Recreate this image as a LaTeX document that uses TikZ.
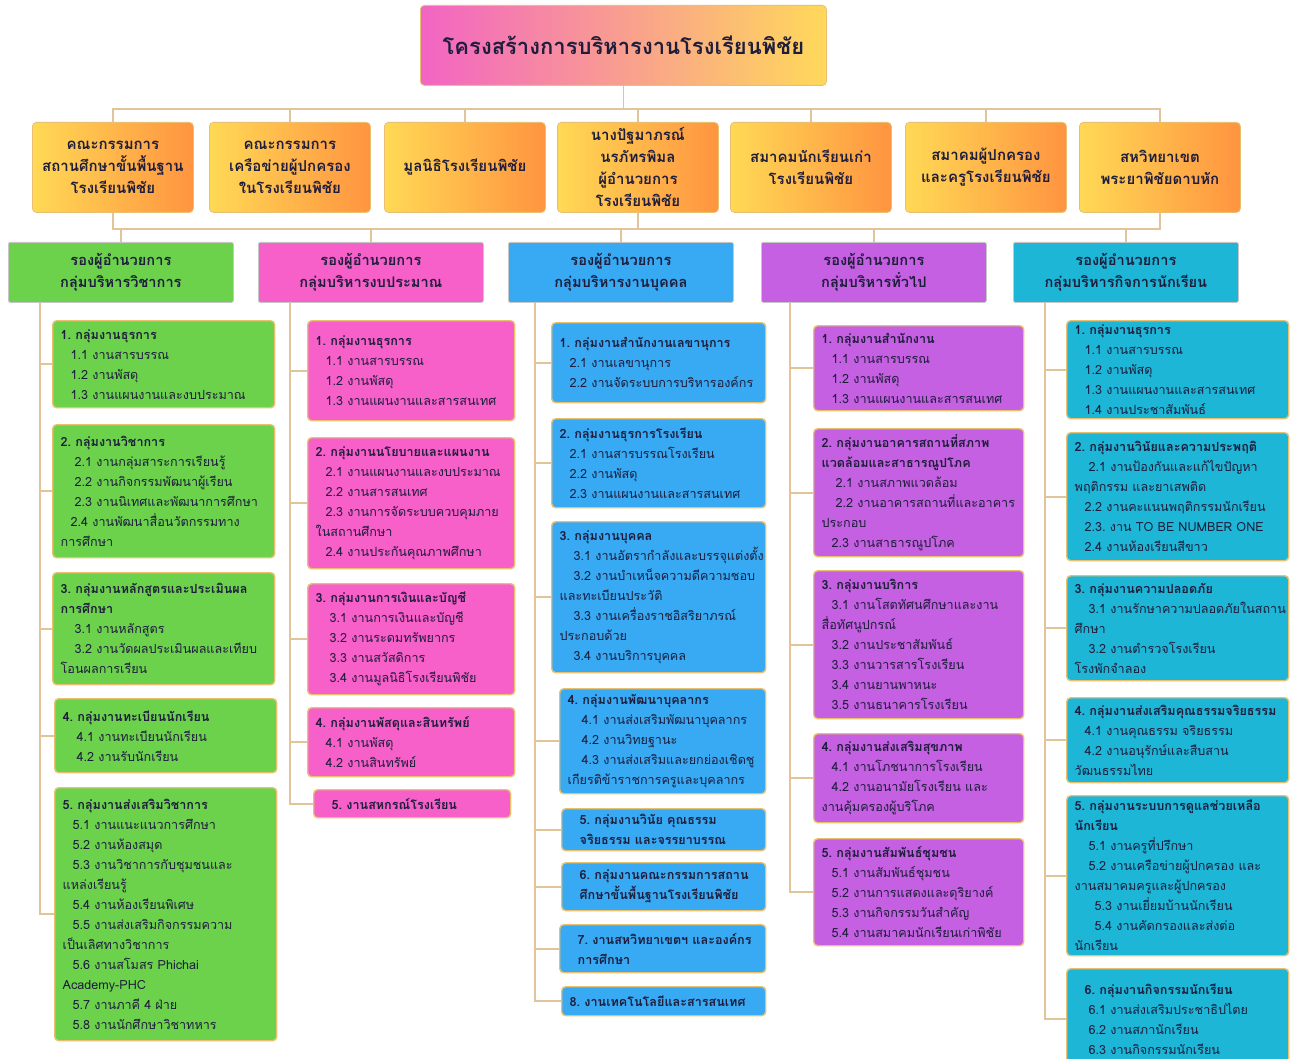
\documentclass[tikz,border=0pt]{standalone}
\usepackage{fontspec}
\setmainfont[Script=Thai]{Loma}
\usetikzlibrary{positioning}

\definecolor{ttlL}{HTML}{F264C4}
\definecolor{ttlR}{HTML}{FFD95A}
\definecolor{brdL}{HTML}{FFD955}
\definecolor{brdR}{HTML}{FF9440}
\definecolor{grn}{HTML}{6CD24C}
\definecolor{pnk}{HTML}{F75FC9}
\definecolor{blu}{HTML}{37AAF3}
\definecolor{prp}{HTML}{C560E2}
\definecolor{cyn}{HTML}{1DB6D7}
\definecolor{lnk}{HTML}{E2C49A}
\definecolor{ink}{HTML}{1E1D3C}
\definecolor{rim}{HTML}{E9C070}

\newcommand{\hdr}[1]{\textbf{#1}}
\newcommand{\indA}{\hspace*{5pt}}
\newcommand{\indB}{\hspace*{7pt}}
\newcommand{\indC}{\hspace*{10pt}}

\begin{document}
\begin{tikzpicture}[x=0.5pt,y=-0.5pt,
    line/.style={draw=lnk,line width=0.8pt},
    ttl/.style={draw=rim,rounded corners=2pt,left color=ttlL,right color=ttlR,anchor=north west,
        minimum width=203pt,minimum height=40pt,font=\fontsize{11}{13}\selectfont\bfseries,text=ink},
    board/.style={draw=rim,rounded corners=2pt,left color=brdL,right color=brdR,anchor=north west,
        minimum width=80.5pt,minimum height=45pt,align=center,inner sep=1pt,
        font=\fontsize{7.5}{11}\selectfont\bfseries,text=ink},
    dep/.style={draw=gray!45,rounded corners=1pt,anchor=north west,minimum width=112.5pt,
        minimum height=30pt,align=center,inner sep=1pt,font=\fontsize{7.3}{11}\selectfont\bfseries,text=ink},
    grp/.style={draw=rim,line width=0.7pt,rounded corners=2pt,anchor=north west,align=left,
        inner xsep=4pt,inner ysep=2pt,font=\fontsize{6.3}{10}\selectfont,text=ink},
    c1/.style={grp,fill=grn,text width=103pt},
    c2/.style={grp,fill=pnk,text width=95.5pt},
    c3/.style={grp,fill=blu,text width=99pt},
    c4/.style={grp,fill=prp,text width=97pt},
    c5/.style={grp,fill=cyn,text width=103pt}]
\useasboundingbox (0,0) rectangle (1295,1059);

% title and boards
\node[ttl] (title) at (420,5) {โครงสร้างการบริหารงานโรงเรียนพิชัย};
\node[board] (b1) at (32,122) {คณะกรรมการ\\สถานศึกษาขั้นพื้นฐาน\\โรงเรียนพิชัย};
\node[board] (b2) at (209,122) {คณะกรรมการ\\เครือข่ายผู้ปกครอง\\ในโรงเรียนพิชัย};
\node[board] (b3) at (384,122) {มูลนิธิโรงเรียนพิชัย};
\node[board] (b4) at (557,122) {นางปัฐมาภรณ์\\นรภัทรพิมล\\ผู้อำนวยการ\\โรงเรียนพิชัย};
\node[board] (b5) at (730,122) {สมาคมนักเรียนเก่า\\โรงเรียนพิชัย};
\node[board] (b6) at (905,122) {สมาคมผู้ปกครอง\\และครูโรงเรียนพิชัย};
\node[board] (b7) at (1079,122) {สหวิทยาเขต\\พระยาพิชัยดาบหัก};

% deputies
\node[dep,fill=grn] (d1) at (8,242) {รองผู้อำนวยการ\\กลุ่มบริหารวิชาการ};
\node[dep,fill=pnk] (d2) at (258,242) {รองผู้อำนวยการ\\กลุ่มบริหารงบประมาณ};
\node[dep,fill=blu] (d3) at (508,242) {รองผู้อำนวยการ\\กลุ่มบริหารงานบุคคล};
\node[dep,fill=prp] (d4) at (761,242) {รองผู้อำนวยการ\\กลุ่มบริหารทั่วไป};
\node[dep,fill=cyn] (d5) at (1013,242) {รองผู้อำนวยการ\\กลุ่มบริหารกิจการนักเรียน};

% academic
\node[c1,minimum height=43.5pt] (g11) at (52,320) {\hdr{1.~กลุ่มงานธุรการ}\\\indA 1.1~งานสารบรรณ\\\indA 1.2~งานพัสดุ\\\indA 1.3~งานแผนงานและงบประมาณ};
\node[c1,minimum height=66.5pt] (g12) at (52,424) {\hdr{2.~กลุ่มงานวิชาการ}\\\indB 2.1~งานกลุ่มสาระการเรียนรู้\\\indB 2.2~งานกิจกรรมพัฒนาผู้เรียน\\\indB 2.3~งานนิเทศและพัฒนาการศึกษา\\\indA 2.4~งานพัฒนาสื่อนวัตกรรมทาง\\การศึกษา};
\node[c1,minimum height=56pt] (g13) at (52,572) {\hdr{3.~กลุ่มงานหลักสูตรและประเมินผล}\\\hdr{การศึกษา}\\\indB 3.1~งานหลักสูตร\\\indB 3.2~งานวัดผลประเมินผลและเทียบ\\โอนผลการเรียน};
\node[c1,minimum height=37pt] (g14) at (54,698) {\hdr{4.~กลุ่มงานทะเบียนนักเรียน}\\\indB 4.1~งานทะเบียนนักเรียน\\\indB 4.2~งานรับนักเรียน};
\node[c1,minimum height=126.5pt] (g15) at (54,787) {\hdr{5.~กลุ่มงานส่งเสริมวิชาการ}\\\indA 5.1~งานแนะแนวการศึกษา\\\indA 5.2~งานห้องสมุด\\\indA 5.3~งานวิชาการกับชุมชนและ\\แหล่งเรียนรู้\\\indA 5.4~งานห้องเรียนพิเศษ\\\indA 5.5~งานส่งเสริมกิจกรรมความ\\เป็นเลิศทางวิชาการ\\\indA 5.6~งานสโมสร~Phichai\\Academy-PHC\\\indA 5.7~งานภาคี~4~ฝ่าย\\\indA 5.8~งานนักศึกษาวิชาทหาร};

% budget
\node[c2,minimum height=50pt] (g21) at (307,320) {\hdr{1.~กลุ่มงานธุรการ}\\\indA 1.1~งานสารบรรณ\\\indA 1.2~งานพัสดุ\\\indA 1.3~งานแผนงานและสารสนเทศ};
\node[c2,minimum height=65.5pt] (g22) at (307,437) {\hdr{2.~กลุ่มงานนโยบายและแผนงาน}\\\indA 2.1~งานแผนงานและงบประมาณ\\\indA 2.2~งานสารสนเทศ\\\indA 2.3~งานการจัดระบบควบคุมภาย\\ในสถานศึกษา\\\indA 2.4~งานประกันคุณภาพศึกษา};
\node[c2,minimum height=55.5pt] (g23) at (307,583) {\hdr{3.~กลุ่มงานการเงินและบัญชี}\\\indB 3.1~งานการเงินและบัญชี\\\indB 3.2~งานระดมทรัพยากร\\\indB 3.3~งานสวัสดิการ\\\indB 3.4~งานมูลนิธิโรงเรียนพิชัย};
\node[c2,minimum height=34.5pt] (g24) at (307,707) {\hdr{4.~กลุ่มงานพัสดุและสินทรัพย์}\\\indA 4.1~งานพัสดุ\\\indA 4.2~งานสินทรัพย์};
\node[c2,text width=90.5pt,minimum height=14pt] (g25) at (313,789) {\hdr{\indA 5.~งานสหกรณ์โรงเรียน}};

% personnel
\node[c3,minimum height=40pt] (g31) at (551,322) {\hdr{1.~กลุ่มงานสำนักงานเลขานุการ}\\\indA 2.1~งานเลขานุการ\\\indA 2.2~งานจัดระบบการบริหารองค์กร};
\node[c3,minimum height=44.5pt] (g32) at (551,418) {\hdr{2.~กลุ่มงานธุรการโรงเรียน}\\\indA 2.1~งานสารบรรณโรงเรียน\\\indA 2.2~งานพัสดุ\\\indA 2.3~งานแผนงานและสารสนเทศ};
\node[c3,minimum height=75.5pt] (g33) at (551,521) {\hdr{3.~กลุ่มงานบุคคล}\\\indB 3.1~งานอัตรากำลังและบรรจุแต่งตั้ง\\\indB 3.2~งานบำเหน็จความดีความชอบ\\และทะเบียนประวัติ\\\indB 3.3~งานเครื่องราชอิสริยาภรณ์\\ประกอบด้วย\\\indB 3.4~งานบริการบุคคล};
\node[c3,text width=95pt,minimum height=52.5pt] (g34) at (559,688) {\hdr{4.~กลุ่มงานพัฒนาบุคลากร}\\\indB 4.1~งานส่งเสริมพัฒนาบุคลากร\\\indB 4.2~งานวิทยฐานะ\\\indB 4.3~งานส่งเสริมและยกย่องเชิดชู\\เกียรติข้าราชการครูและบุคลากร};
\node[c3,text width=94pt,minimum height=21pt] (g35) at (561,808) {\hdr{\indA 5.~กลุ่มงานวินัย~คุณธรรม}\\\hdr{\indA จริยธรรม~และจรรยาบรรณ}};
\node[c3,text width=94pt,minimum height=24pt] (g36) at (561,862) {\hdr{\indA 6.~กลุ่มงานคณะกรรมการสถาน}\\\hdr{\indA ศึกษาขั้นพื้นฐานโรงเรียนพิชัย}};
\node[c3,text width=95pt,minimum height=24pt] (g37) at (559,924) {\hdr{\indA 7.~งานสหวิทยาเขตฯ~และองค์กร}\\\hdr{\indA การศึกษา}};
\node[c3,text width=94pt,minimum height=14.5pt] (g38) at (561,986) {\hdr{8.~งานเทคโนโลยีและสารสนเทศ}};

% general
\node[c4,minimum height=42.5pt] (g41) at (813,325) {\hdr{1.~กลุ่มงานสำนักงาน}\\\indA 1.1~งานสารบรรณ\\\indA 1.2~งานพัสดุ\\\indA 1.3~งานแผนงานและสารสนเทศ};
\node[c4,minimum height=64pt] (g42) at (813,428) {\hdr{2.~กลุ่มงานอาคารสถานที่สภาพ}\\\hdr{แวดล้อมและสาธารณูปโภค}\\\indB 2.1~งานสภาพแวดล้อม\\\indB 2.2~งานอาคารสถานที่และอาคาร\\ประกอบ\\\indA 2.3~งานสาธารณูปโภค};
\node[c4,minimum height=74pt] (g43) at (813,570) {\hdr{3.~กลุ่มงานบริการ}\\\indA 3.1~งานโสตทัศนศึกษาและงาน\\สื่อทัศนูปกรณ์\\\indA 3.2~งานประชาสัมพันธ์\\\indA 3.3~งานวารสารโรงเรียน\\\indA 3.4~งานยานพาหนะ\\\indA 3.5~งานธนาคารโรงเรียน};
\node[c4,minimum height=44.5pt] (g44) at (813,733) {\hdr{4.~กลุ่มงานส่งเสริมสุขภาพ}\\\indA 4.1~งานโภชนาการโรงเรียน\\\indA 4.2~งานอนามัยโรงเรียน~และ\\งานคุ้มครองผู้บริโภค};
\node[c4,minimum height=53.5pt] (g45) at (813,838) {\hdr{5.~กลุ่มงานสัมพันธ์ชุมชน}\\\indA 5.1~งานสัมพันธ์ชุมชน\\\indA 5.2~งานการแสดงและดุริยางค์\\\indA 5.3~งานกิจกรรมวันสำคัญ\\\indA 5.4~งานสมาคมนักเรียนเก่าพิชัย};

% student affairs
\node[c5,minimum height=49pt] (g51) at (1066,320) {\hdr{1.~กลุ่มงานธุรการ}\\\indA 1.1~งานสารบรรณ\\\indA 1.2~งานพัสดุ\\\indA 1.3~งานแผนงานและสารสนเทศ\\\indA 1.4~งานประชาสัมพันธ์};
\node[c5,minimum height=64pt] (g52) at (1066,432) {\hdr{2.~กลุ่มงานวินัยและความประพฤติ}\\\indB 2.1~งานป้องกันและแก้ไขปัญหา\\พฤติกรรม~และยาเสพติด\\\indA 2.2~งานคะแนนพฤติกรรมนักเรียน\\\indA 2.3.~งาน~TO~BE~NUMBER~ONE\\\indA 2.4~งานห้องเรียนสีขาว};
\node[c5,minimum height=52.5pt] (g53) at (1066,575) {\hdr{3.~กลุ่มงานความปลอดภัย}\\\indB 3.1~งานรักษาความปลอดภัยในสถาน\\ศึกษา\\\indB 3.2~งานตำรวจโรงเรียน\\โรงพักจำลอง};
\node[c5,minimum height=42.5pt] (g54) at (1066,697) {\hdr{4.~กลุ่มงานส่งเสริมคุณธรรมจริยธรรม}\\\indA 4.1~งานคุณธรรม~จริยธรรม\\\indA 4.2~งานอนุรักษ์และสืบสาน\\วัฒนธรรมไทย};
\node[c5,minimum height=80pt] (g55) at (1066,795) {\hdr{5.~กลุ่มงานระบบการดูแลช่วยเหลือ}\\\hdr{นักเรียน}\\\indB 5.1~งานครูที่ปรึกษา\\\indB 5.2~งานเครือข่ายผู้ปกครอง~และ\\งานสมาคมครูและผู้ปกครอง\\\indC 5.3~งานเยี่ยมบ้านนักเรียน\\\indC 5.4~งานคัดกรองและส่งต่อ\\นักเรียน};
\node[c5,minimum height=50pt] (g56) at (1066,968) {\hdr{\indA 6.~กลุ่มงานกิจกรรมนักเรียน}\\\indB 6.1~งานส่งเสริมประชาธิปไตย\\\indB 6.2~งานสภานักเรียน\\\indB 6.3~งานกิจกรรมนักเรียน};

% connectors
\draw[line] (title.south) -- ++(0,23) coordinate (bus1);
\foreach \b in {b1,b2,b3,b4,b5,b6,b7}
    \draw[line] (bus1) -| (\b.north);
\draw[line] (b4.south) -- ++(0,16) coordinate (bus2);
\draw[line] (b1.south) |- (bus2) -| (b7.south);
\foreach \d in {d1,d2,d3,d4,d5}
    \draw[line] (bus2) -| (\d.north);

\coordinate (k1) at ([xshift=16pt]d1.south west);
\coordinate (k2) at ([xshift=16pt]d2.south west);
\coordinate (k3) at ([xshift=13.5pt]d3.south west);
\coordinate (k4) at ([xshift=14.5pt]d4.south west);
\coordinate (k5) at ([xshift=16pt]d5.south west);
\foreach \g in {g11,g12,g13,g14,g15}
    \draw[line] (k1) |- (\g.west);
\foreach \g in {g21,g22,g23,g24,g25}
    \draw[line] (k2) |- (\g.west);
\foreach \g in {g31,g32,g33,g34,g35,g36,g37,g38}
    \draw[line] (k3) |- (\g.west);
\foreach \g in {g41,g42,g43,g44,g45}
    \draw[line] (k4) |- (\g.west);
\foreach \g in {g51,g52,g53,g54,g55,g56}
    \draw[line] (k5) |- (\g.west);
\end{tikzpicture}
\end{document}
